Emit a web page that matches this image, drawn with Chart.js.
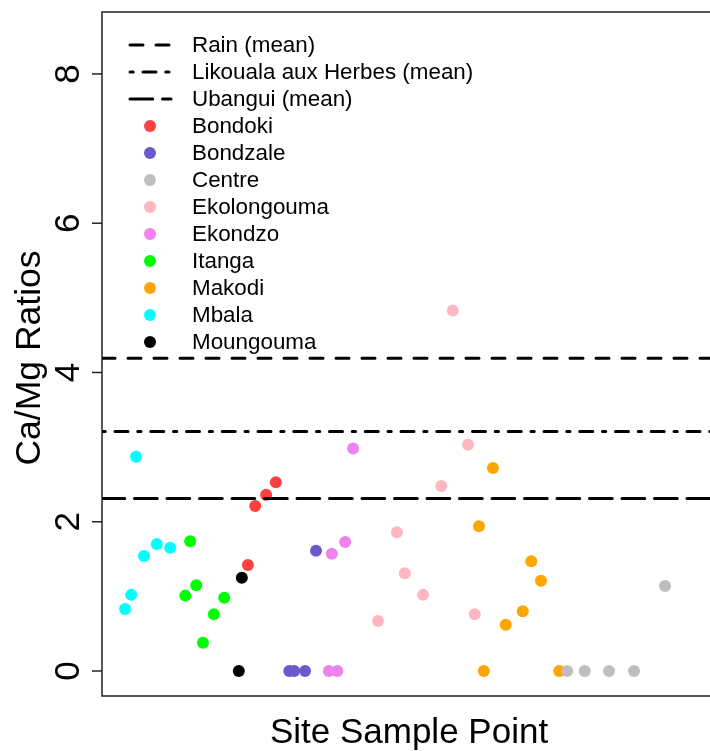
<!DOCTYPE html>
<html>
<head>
<meta charset="utf-8">
<title>Ca/Mg Ratios by Site</title>
<script src="https://cdn.jsdelivr.net/npm/chart.js@4/dist/chart.umd.min.js"></script>
<style>
    html, body { margin: 0; padding: 0; background: #fff; }
    canvas { display: block; }
</style>
</head>
<body>
<canvas id="ratios" width="710" height="751"></canvas>
<script>
/* reference means (horizontal lines) */
const meanLabels = ['Rain (mean)', 'Likouala aux Herbes (mean)', 'Ubangui (mean)'];
const meanValues = [4.19, 3.21, 2.31];
const meanDashes = [[13, 13], [3.25, 9.75, 13, 9.75], [22.75, 9.75]];

/* sites and their colours */
const sites = ['Bondoki', 'Bondzale', 'Centre', 'Ekolongouma', 'Ekondzo', 'Itanga', 'Makodi', 'Mbala', 'Moungouma'];
const siteColours = ['#FF4040', '#6A5ACD', '#BEBEBE', '#FFB6C1', '#EE82EE', '#00FF00', '#FFA500', '#00FFFF', '#000000'];

/* sample point positions and Ca/Mg ratios for each site */
const bondokiX = [24.0, 25.2, 27.0, 28.6];
const bondokiY = [1.42, 2.21, 2.36, 2.53];
const bondzaleX = [30.8, 31.6, 33.4, 35.2];
const bondzaleY = [0, 0, 0, 1.61];
const centreX = [76.5, 79.4, 83.4, 87.5, 92.6];
const centreY = [0, 0, 0, 0, 1.14];
const ekolongoumaX = [45.4, 48.5, 49.8, 52.8, 55.8, 57.7, 60.2, 61.3];
const ekolongoumaY = [0.67, 1.86, 1.31, 1.02, 2.48, 4.83, 3.03, 0.76];
const ekondzoX = [37.3, 37.8, 38.7, 40.0, 41.3];
const ekondzoY = [0, 1.57, 0, 1.73, 2.98];
const itangaX = [13.7, 14.5, 15.5, 16.6, 18.4, 20.1];
const itangaY = [1.01, 1.74, 1.15, 0.38, 0.76, 0.98];
const makodiX = [62.0, 62.8, 64.3, 66.4, 69.2, 70.6, 72.2, 75.2];
const makodiY = [1.94, 0, 2.72, 0.62, 0.80, 1.47, 1.21, 0];
const mbalaX = [3.8, 4.8, 5.6, 6.9, 9.0, 11.2];
const mbalaY = [0.83, 1.02, 2.87, 1.54, 1.70, 1.65];
const moungoumaX = [22.5, 23.0];
const moungoumaY = [0, 1.25];

const siteX = [bondokiX, bondzaleX, centreX, ekolongoumaX, ekondzoX, itangaX, makodiX, mbalaX, moungoumaX];
const siteY = [bondokiY, bondzaleY, centreY, ekolongoumaY, ekondzoY, itangaY, makodiY, mbalaY, moungoumaY];

const yTicks = [0, 2, 4, 6, 8];
const xMin = 0, xMax = 100;
const yMin = -0.335, yMax = 8.83;

const FONT = '"Liberation Sans", Arial, Helvetica, sans-serif';

var datasets = [];

meanValues.forEach(function (v, i) {
    datasets.push({
        type: 'line',
        label: meanLabels[i],
        data: [{ x: xMin, y: v }, { x: xMax, y: v }],
        borderColor: '#000',
        borderWidth: 3,
        borderDash: meanDashes[i],
        borderCapStyle: 'round',
        pointRadius: 0,
        fill: false,
        order: 0
    });
});

sites.forEach(function (name, i) {
    datasets.push({
        type: 'scatter',
        label: name,
        data: siteX[i].map(function (x, j) { return { x: x, y: siteY[i][j] }; }),
        backgroundColor: siteColours[i],
        borderWidth: 0,
        pointRadius: 6,
        pointHoverRadius: 6,
        order: 1
    });
});

/* axes, box, titles and legend drawn R-style */
const framePlugin = {
    id: 'frame',
    afterDraw: function (chart) {
        var ctx = chart.ctx;
        var area = chart.chartArea;
        var yScale = chart.scales.y;

        ctx.save();

        // box (right side runs off the canvas)
        ctx.strokeStyle = '#222';
        ctx.lineWidth = 1.5;
        ctx.beginPath();
        ctx.moveTo(chart.width, area.top);
        ctx.lineTo(area.left, area.top);
        ctx.lineTo(area.left, area.bottom);
        ctx.lineTo(chart.width, area.bottom);
        ctx.stroke();

        // y ticks and rotated labels
        ctx.fillStyle = '#000';
        ctx.font = '35px ' + FONT;
        ctx.textAlign = 'center';
        ctx.textBaseline = 'alphabetic';
        yTicks.forEach(function (t) {
            var py = yScale.getPixelForValue(t);
            ctx.beginPath();
            ctx.moveTo(area.left - 10, py);
            ctx.lineTo(area.left, py);
            ctx.stroke();
            ctx.save();
            ctx.translate(79, py);
            ctx.rotate(-Math.PI / 2);
            ctx.fillText(String(t), 0, 0);
            ctx.restore();
        });

        // axis titles
        ctx.save();
        ctx.translate(40, (area.top + area.bottom) / 2 + 4);
        ctx.rotate(-Math.PI / 2);
        ctx.font = '35.5px ' + FONT;
        ctx.fillText('Ca/Mg Ratios', 0, 0);
        ctx.restore();
        ctx.fillText('Site Sample Point', 409, 743);

        // legend
        var rowY = 45, rowStep = 27;
        ctx.font = '22.4px ' + FONT;
        ctx.textAlign = 'left';
        ctx.textBaseline = 'middle';
        chart.data.datasets.forEach(function (ds, i) {
            var y = rowY + i * rowStep;
            if (ds.type === 'line') {
                ctx.save();
                ctx.strokeStyle = ds.borderColor;
                ctx.lineWidth = ds.borderWidth;
                ctx.lineCap = 'round';
                ctx.setLineDash(ds.borderDash);
                ctx.beginPath();
                ctx.moveTo(130, y);
                ctx.lineTo(171, y);
                ctx.stroke();
                ctx.restore();
            } else {
                ctx.fillStyle = ds.backgroundColor;
                ctx.beginPath();
                ctx.arc(150, y, 6, 0, Math.PI * 2);
                ctx.fill();
            }
            ctx.fillStyle = '#000';
            ctx.fillText(ds.label, 192, y + 1);
        });

        ctx.restore();
    }
};

var ctx = document.getElementById('ratios').getContext('2d');
var ratiosChart = new Chart(ctx, {
    type: 'scatter',
    data: { datasets: datasets },
    options: {
        responsive: false,
        animation: false,
        events: [],
        layout: {
            autoPadding: false,
            padding: { left: 102, top: 12, right: 0, bottom: 55 }
        },
        scales: {
            x: { type: 'linear', display: false, min: xMin, max: xMax },
            y: { type: 'linear', display: false, min: yMin, max: yMax }
        },
        plugins: {
            legend: { display: false },
            tooltip: { enabled: false }
        }
    },
    plugins: [framePlugin]
});
</script>
</body>
</html>
